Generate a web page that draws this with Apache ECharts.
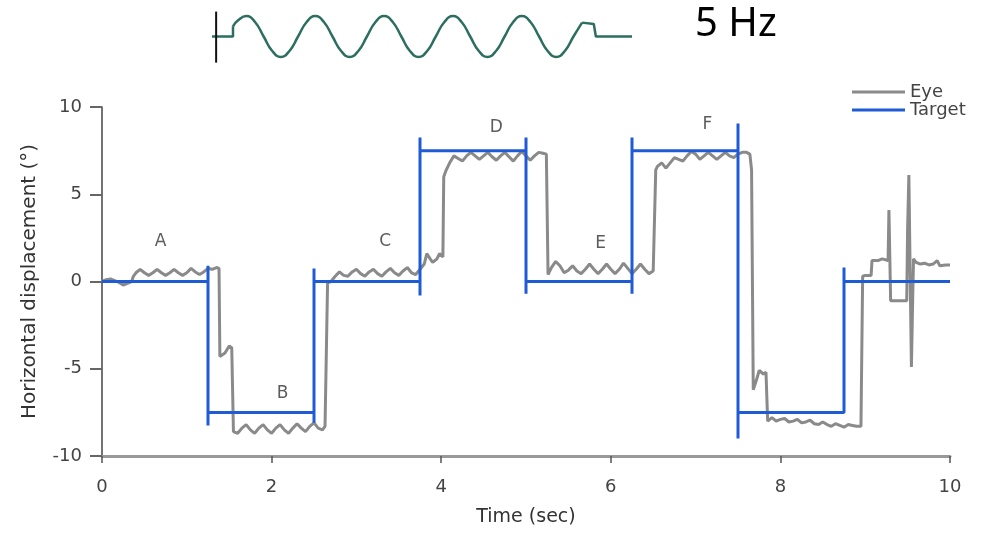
<!DOCTYPE html>
<html>
<head>
	<meta charset="utf-8">
	<title>Eye vs Target</title>
	<script type="text/javascript" src="https://cdn.jsdelivr.net/npm/echarts@6/dist/echarts.min.js"></script>
</head>
<body style="margin:0">
	<div id="main" style="width: 992px;height:536px"></div>
	<script type="text/javascript">
// target steps: time (sec) and displacement (deg)
var targetT = [0, 1.25, 1.25, 1.25, 1.25, 2.5, 2.5, 2.5, 2.5, 3.75, 3.75, 3.75, 3.75, 5.0, 5.0, 5.0, 5.0,
    6.25, 6.25, 6.25, 6.25, 7.5, 7.5, 7.5, 7.5, 8.75, 8.75, 8.75, 8.75, 10];
var targetV = [0, 0, 0.9, -8.25, -7.5, -7.5, -8.1, 0.75, 0, 0, -0.8, 8.25, 7.5, 7.5, 8.25, -0.7, 0,
    0, -0.7, 8.25, 7.5, 7.5, 9.05, -9.0, -7.5, -7.5, -7.6, 0.8, 0, 0];

var eyeA = [[0,0],[0.05,0.1],[0.1,0.15],[0.15,0.05],[0.2,-0.05],[0.25,-0.2],[0.3,-0.1],[0.35,0.0],[0.37,0.3],
    [0.4,0.5],[0.45,0.7],[0.5,0.5],[0.55,0.35],[0.6,0.5],[0.65,0.7],[0.7,0.5],[0.75,0.35],[0.8,0.5],[0.85,0.7],
    [0.9,0.5],[0.95,0.35],[1.0,0.5],[1.05,0.75],[1.1,0.55],[1.15,0.4],[1.2,0.55],[1.25,0.75],[1.3,0.7],[1.35,0.8],[1.38,0.75]];
var eyeB = [[1.39,-4.3],[1.45,-4.1],[1.5,-3.7],[1.53,-3.8],[1.55,-8.6],[1.6,-8.7],[1.65,-8.4],[1.7,-8.2],[1.75,-8.5],
    [1.8,-8.7],[1.85,-8.4],[1.9,-8.2],[1.95,-8.5],[2.0,-8.7],[2.05,-8.4],[2.1,-8.2],[2.15,-8.5],[2.2,-8.7],[2.25,-8.4],
    [2.3,-8.15],[2.35,-8.4],[2.4,-8.6],[2.45,-8.3],[2.5,-8.1],[2.55,-8.4],[2.6,-8.5],[2.63,-8.3],[2.65,-8.4]];
var eyeC = [[2.66,-0.1],[2.7,0.0],[2.75,0.3],[2.8,0.55],[2.85,0.35],[2.9,0.3],[2.95,0.55],[3.0,0.7],[3.05,0.45],
    [3.1,0.3],[3.15,0.55],[3.2,0.7],[3.25,0.45],[3.3,0.3],[3.35,0.55],[3.4,0.75],[3.45,0.5],[3.5,0.35],[3.55,0.6],
    [3.6,0.8],[3.65,0.5],[3.7,0.4],[3.75,0.7],[3.8,1.0],[3.83,1.6],[3.87,1.3],[3.9,1.1],[3.95,1.3],[3.98,1.6],[4.02,1.4]];
var eyeD = [[4.03,6.0],[4.06,6.4],[4.1,6.8],[4.15,7.2],[4.2,7.05],[4.25,6.9],[4.3,7.2],[4.35,7.4],[4.4,7.2],
    [4.45,7.0],[4.5,7.2],[4.55,7.4],[4.6,7.15],[4.65,6.95],[4.7,7.2],[4.75,7.4],[4.8,7.15],[4.85,6.9],[4.9,7.2],
    [4.95,7.45],[5.0,7.2],[5.05,6.95],[5.1,7.2],[5.15,7.4],[5.2,7.35],[5.24,7.3]];
var eyeE = [[5.26,0.4],[5.3,0.8],[5.35,1.15],[5.4,0.9],[5.45,0.5],[5.5,0.65],[5.55,0.9],[5.6,0.6],[5.65,0.45],
    [5.7,0.7],[5.75,1.0],[5.8,0.7],[5.85,0.45],[5.9,0.7],[5.95,1.0],[6.0,0.7],[6.05,0.45],[6.1,0.7],[6.15,1.05],
    [6.2,0.75],[6.25,0.45],[6.3,0.7],[6.35,1.0],[6.4,0.7],[6.45,0.45],[6.5,0.6],[6.52,0.5]];
var eyeF = [[6.53,6.4],[6.55,6.6],[6.6,6.8],[6.65,6.5],[6.7,6.8],[6.75,7.1],[6.8,7.0],[6.85,6.9],[6.9,7.2],
    [6.95,7.45],[7.0,7.3],[7.05,7.0],[7.1,7.2],[7.15,7.4],[7.2,7.2],[7.25,7.0],[7.3,7.2],[7.35,7.4],[7.4,7.2],
    [7.45,7.1],[7.5,7.3],[7.55,7.4],[7.6,7.4],[7.64,7.3],[7.66,6.4]];
var eyeG = [[7.68,-6.2],[7.72,-5.6],[7.75,-5.1],[7.8,-5.3],[7.83,-5.2],[7.85,-8.0],[7.9,-7.8],[7.95,-8.0],[8.0,-7.9],
    [8.05,-7.85],[8.1,-8.05],[8.15,-8.0],[8.2,-7.9],[8.25,-8.1],[8.3,-8.05],[8.35,-7.95],[8.4,-8.15],[8.45,-8.2],
    [8.5,-8.05],[8.55,-8.2],[8.6,-8.3],[8.65,-8.15],[8.7,-8.25],[8.75,-8.35],[8.8,-8.2],[8.85,-8.25],[8.9,-8.3],[8.95,-8.3]];
var eyeH = [[8.97,0.3],[9.0,0.35],[9.07,0.35],[9.08,1.2],[9.15,1.2],[9.2,1.3],[9.27,1.2],[9.28,4.1],[9.3,-1.1],
    [9.49,-1.1],[9.5,3.0],[9.515,6.1],[9.53,0.5],[9.545,-4.9],[9.56,-1.0],[9.57,1.3],[9.6,1.1],[9.65,1.0],[9.7,1.05],
    [9.75,0.95],[9.8,1.0],[9.85,1.2],[9.88,0.9],[9.9,1.0],[9.95,0.95],[10.0,0.95]];

// segment letters
var labelNames = ['A', 'B', 'C', 'D', 'E', 'F'];
var labelT = [0.69, 2.13, 3.34, 4.65, 5.88, 7.14];
var labelV = [2.3, -6.4, 2.3, 8.8, 2.2, 9.0];

// stimulus inset (5 Hz), time in sec, amplitude in units
var insetLeft = [[0,0],[0.061,0],[0.061,0.5]];
var insetWave = [[0.061,0.5],[0.075,0.78],[0.1,1],[0.125,0.71],[0.15,0],[0.175,-0.71],[0.2,-1],[0.225,-0.71],
    [0.25,0],[0.275,0.71],[0.3,1],[0.325,0.71],[0.35,0],[0.375,-0.71],[0.4,-1],[0.425,-0.71],[0.45,0],[0.475,0.71],
    [0.5,1],[0.525,0.71],[0.55,0],[0.575,-0.71],[0.6,-1],[0.625,-0.71],[0.65,0],[0.675,0.71],[0.7,1],[0.725,0.71],
    [0.75,0],[0.775,-0.71],[0.8,-1],[0.825,-0.71],[0.85,0],[0.875,0.71],[0.9,1],[0.925,0.71],[0.95,0],[0.975,-0.71],
    [1.0,-1],[1.025,-0.71],[1.05,0],[1.075,0.68]];
var insetRight = [[1.075,0.68],[1.08,0.71],[1.109,0.61],[1.115,0],[1.22,0]];
var insetMark = [[0.012,1.22],[0.012,-1.28]];

var targetData = targetT.map(function (t, i) { return [t, targetV[i]]; });
var eyeData = eyeA.concat(eyeB, eyeC, eyeD, eyeE, eyeF, eyeG, eyeH);
var labelData = labelNames.map(function (n, i) { return {name: n, value: [labelT[i], labelV[i]]}; });

var font = 'DejaVu Sans';
var insetColor = '#2c6e60';

option = {
    backgroundColor: '#fff',
    animation: false,
    title: {
        text: '5 Hz',
        left: 690,
        top: 0,
        textStyle: {fontFamily: 'Noto Sans', fontSize: 40, fontWeight: 'normal', color: '#000'}
    },
    legend: {
        data: ['Eye', 'Target'],
        orient: 'vertical',
        left: 847,
        top: 78,
        icon: 'rect',
        itemWidth: 53,
        itemHeight: 3,
        itemGap: 0,
        textStyle: {fontFamily: font, fontSize: 18, color: '#444', lineHeight: 17}
    },
    grid: [
        {left: 102, right: 42, top: 107, bottom: 80},
        {left: 212, top: 12, width: 420, height: 49}
    ],
    xAxis: [
        {
            type: 'value', gridIndex: 0, min: 0, max: 10, interval: 2,
            name: 'Time (sec)', nameLocation: 'middle', nameGap: 52,
            nameTextStyle: {fontFamily: font, fontSize: 19, color: '#333'},
            axisLine: {onZero: false, lineStyle: {color: '#999', width: 3}},
            axisTick: {length: 7, lineStyle: {color: '#555', width: 1.5}},
            axisLabel: {margin: 22, fontFamily: font, fontSize: 18, color: '#444'},
            splitLine: {show: false}
        },
        {type: 'value', gridIndex: 1, min: 0, max: 1.22, show: false}
    ],
    yAxis: [
        {
            type: 'value', gridIndex: 0, min: -10, max: 10, interval: 5,
            name: 'Horizontal displacement (°)', nameLocation: 'middle', nameGap: 62,
            nameTextStyle: {fontFamily: font, fontSize: 20, color: '#333'},
            axisLine: {show: true, onZero: false, lineStyle: {color: '#444', width: 1.5}},
            axisTick: {show: true, length: 12, lineStyle: {color: '#666', width: 2}},
            axisLabel: {margin: 20, fontFamily: font, fontSize: 18, color: '#444'},
            splitLine: {show: false}
        },
        {type: 'value', gridIndex: 1, min: -1.2, max: 1.2, show: false}
    ],
    series: [
        {
            name: 'Eye', type: 'line', data: eyeData, symbol: 'none',
            lineStyle: {color: '#8a8a8a', width: 3}, itemStyle: {color: '#8a8a8a'}
        },
        {
            name: 'Target', type: 'line', data: targetData, symbol: 'none',
            lineStyle: {color: '#1f5bd4', width: 3}, itemStyle: {color: '#1f5bd4'}
        },
        {
            name: 'labels', type: 'scatter', data: labelData, symbolSize: 1, silent: true,
            itemStyle: {color: 'rgba(0,0,0,0)'},
            label: {show: true, position: 'inside', formatter: '{b}', fontFamily: font, fontSize: 17, color: '#333'}
        },
        {
            name: 'inL', type: 'line', xAxisIndex: 1, yAxisIndex: 1, data: insetLeft, symbol: 'none',
            lineStyle: {color: insetColor, width: 2.5}, clip: false
        },
        {
            name: 'inW', type: 'line', xAxisIndex: 1, yAxisIndex: 1, data: insetWave, symbol: 'none', smooth: true,
            lineStyle: {color: insetColor, width: 2.5}, clip: false
        },
        {
            name: 'inR', type: 'line', xAxisIndex: 1, yAxisIndex: 1, data: insetRight, symbol: 'none',
            lineStyle: {color: insetColor, width: 2.5}, clip: false
        },
        {
            name: 'inM', type: 'line', xAxisIndex: 1, yAxisIndex: 1, data: insetMark, symbol: 'none',
            lineStyle: {color: '#111', width: 2}, clip: false
        }
    ]
};
    var myChart = echarts.init(document.getElementById('main'));
    myChart.setOption(option);
	</script>
</body>
</html>
